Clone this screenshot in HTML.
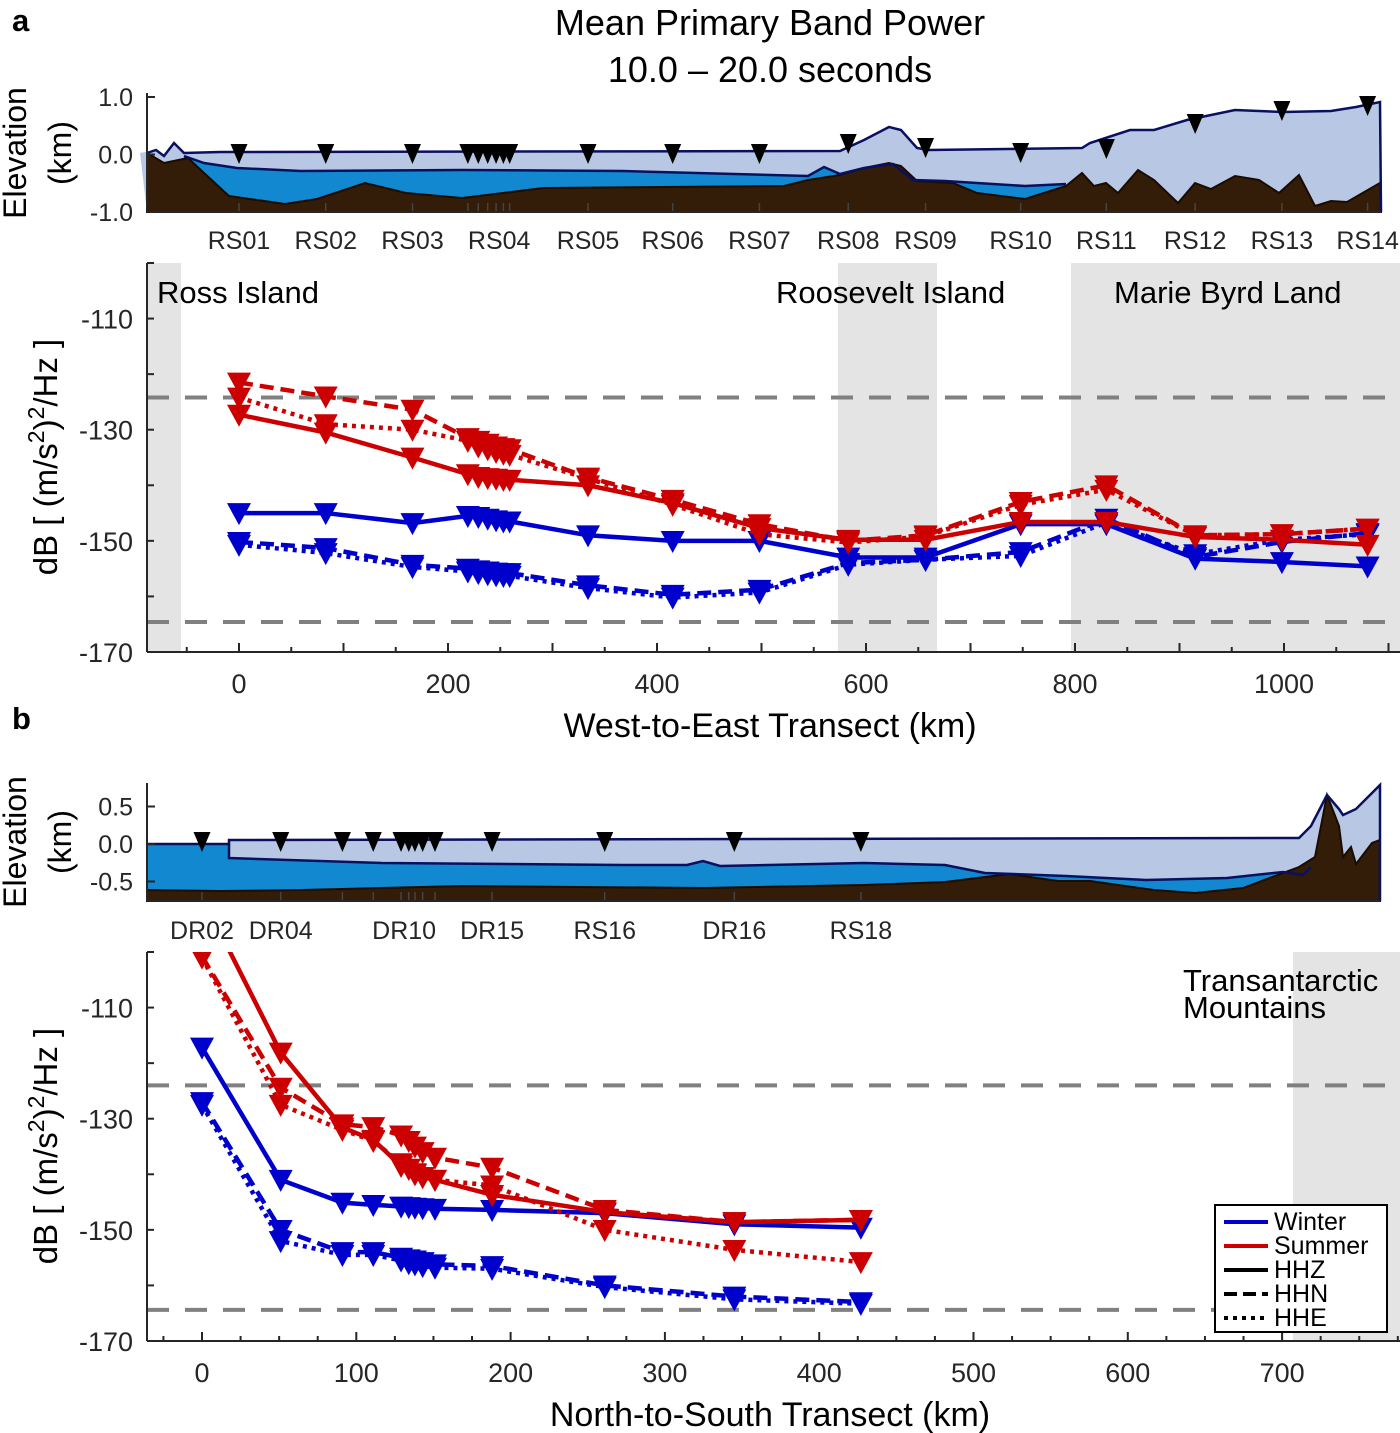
<!DOCTYPE html>
<html><head><meta charset="utf-8"><style>
body{margin:0;background:#fff}
svg{display:block;font-family:"Liberation Sans",Arial,sans-serif}
</style></head><body>
<svg id="fig" width="1400" height="1433" viewBox="0 0 1400 1433">
<defs>
<clipPath id="clipA"><rect x="147" y="263" width="1253" height="389"/></clipPath>
<clipPath id="clipB"><rect x="147" y="952" width="1253" height="389"/></clipPath>
</defs>
<text x="12" y="31" font-size="31" font-weight="bold">a</text>
<text x="12" y="729" font-size="31" font-weight="bold">b</text>
<text x="770" y="35" font-size="36" text-anchor="middle">Mean Primary Band Power</text>
<text x="770" y="82" font-size="36" text-anchor="middle">10.0 – 20.0 seconds</text>

<!-- Elevation panel a -->
<g>
<polygon fill="#b8c8e4" points="140,153 156,150 164,156 174,143 184,153 220,152 840,151 864,140 889,127 901,130 917,148 929,150 1082,148 1090,143 1130,130 1154,130 1187,120 1235,110 1283,112 1331,111 1356,107 1380,102 1381,212 147,212"/>
<polygon fill="#1288d0" points="184,156 204,163 237,168 301,171 462,170 623,171 808,176 824,167 840,174 864,168 893,164 913,180 945,181 993,184 1025,186 1066,184 1066,212 184,212"/>
<polygon fill="#331c08" stroke="#1a0c00" stroke-width="2" points="147,153 164,163 188,158 204,173 229,196 285,204 317,199 365,183 406,193 462,198 543,188 784,186 808,180 840,175 864,168 889,163 901,166 917,181 953,183 977,193 1025,199 1066,186 1082,173 1094,186 1106,183 1118,193 1138,170 1154,180 1178,203 1195,183 1211,189 1235,176 1259,180 1279,193 1299,175 1315,206 1331,201 1347,202 1380,183 1381,212 147,212"/>
<polyline fill="none" stroke="#0a1060" stroke-width="2.5" points="147,153 156,150 164,156 174,143 184,153 220,152 840,151 864,140 889,127 901,130 917,148 929,150 1082,148 1090,143 1130,130 1154,130 1187,120 1235,110 1283,112 1331,111 1356,107 1380,102 1381,212"/>
<polyline fill="none" stroke="#0a1060" stroke-width="2.5" points="184,156 204,163 237,168 301,171 462,170 623,171 808,176 824,167 840,174 864,168 893,164 913,180 945,181 993,184 1025,186 1066,184"/>
</g>
<g id="elevA"></g>

<!-- Elevation panel b -->
<g>
<polygon fill="#1288d0" points="147,844 229,844 229,858 1311,867 1311,901 147,901"/>
<polygon fill="#b8c8e4" points="229,840 1299,838 1311,826 1327,795 1339,809 1343,815 1356,809 1380,785 1380,901 1311,901 1311,867 1303,875 1283,872 1227,878 1146,880 1066,876 985,873 945,865 864,863 720,866 703,861 687,865 623,865 382,863 229,858"/>
<polygon fill="#1288d0" points="229,858 382,863 623,865 687,865 703,861 720,866 864,863 945,865 985,873 1066,876 1146,880 1227,878 1283,872 1303,875 1311,867 1311,901 229,901"/>
<polygon fill="#331c08" stroke="#1a0c00" stroke-width="2" points="147,890 220,891 301,890 462,886 703,888 864,885 945,882 1009,874 1058,881 1090,881 1154,890 1195,893 1243,888 1299,867 1315,857 1327,795 1339,826 1343,857 1351,847 1356,864 1372,843 1380,840 1380,901 147,901"/>
<polyline fill="none" stroke="#0a1060" stroke-width="2.5" points="147,844 229,844 229,840 1299,838 1311,826 1327,795 1339,809 1343,815 1356,809 1380,785 1380,901"/>
<polyline fill="none" stroke="#0a1060" stroke-width="2.5" points="229,844 229,858 382,863 623,865 687,865 703,861 720,866 864,863 945,865 985,873 1066,876 1146,880 1227,878 1283,872 1303,875 1311,867"/>
</g>
<g id="elevB"></g>

<!-- Main panel a -->
<g>
<rect x="147" y="263" width="34" height="389" fill="#e4e4e4"/>
<rect x="838" y="263" width="99" height="389" fill="#e4e4e4"/>
<rect x="1071" y="263" width="329" height="389" fill="#e4e4e4"/>
</g>
<text x="157" y="303" font-size="31">Ross Island</text>
<text x="776" y="303" font-size="31">Roosevelt Island</text>
<text x="1114" y="303" font-size="31">Marie Byrd Land</text>
<g id="mainA"></g>

<!-- Main panel b -->
<rect x="1293" y="952" width="107" height="389" fill="#e4e4e4"/>
<text x="1183" y="991" font-size="31">Transantarctic</text>
<text x="1183" y="1018" font-size="31">Mountains</text>
<g id="mainB"></g>

<text x="770" y="737" font-size="34" text-anchor="middle">West-to-East Transect (km)</text>
<text x="770" y="1426" font-size="34" text-anchor="middle">North-to-South Transect (km)</text>
<text transform="translate(57,457) rotate(-90)" font-size="33" text-anchor="middle">dB [ (m/s<tspan dy="-13" font-size="23">2</tspan><tspan dy="13">)</tspan><tspan dy="-13" font-size="23">2</tspan><tspan dy="13">/Hz ]</tspan></text>
<text transform="translate(57,1146) rotate(-90)" font-size="33" text-anchor="middle">dB [ (m/s<tspan dy="-13" font-size="23">2</tspan><tspan dy="13">)</tspan><tspan dy="-13" font-size="23">2</tspan><tspan dy="13">/Hz ]</tspan></text>
<text transform="translate(26,153) rotate(-90)" font-size="32" text-anchor="middle">Elevation</text>
<text transform="translate(71,153) rotate(-90)" font-size="32" text-anchor="middle">(km)</text>
<text transform="translate(26,842) rotate(-90)" font-size="32" text-anchor="middle">Elevation</text>
<text transform="translate(71,842) rotate(-90)" font-size="32" text-anchor="middle">(km)</text>

<g>
<rect x="1215" y="1205" width="172" height="127" fill="#fff" stroke="#000" stroke-width="2"/>
<line x1="1224" y1="1222" x2="1268" y2="1222" stroke="#0000cc" stroke-width="4"/>
<text x="1274" y="1230" font-size="25">Winter</text>
<line x1="1224" y1="1246" x2="1268" y2="1246" stroke="#cc0000" stroke-width="4"/>
<text x="1274" y="1254" font-size="25">Summer</text>
<line x1="1224" y1="1270" x2="1268" y2="1270" stroke="#000" stroke-width="4"/>
<text x="1274" y="1278" font-size="25">HHZ</text>
<line x1="1224" y1="1294" x2="1268" y2="1294" stroke="#000" stroke-width="4" stroke-dasharray="13,6"/>
<text x="1274" y="1302" font-size="25">HHN</text>
<line x1="1224" y1="1318" x2="1268" y2="1318" stroke="#000" stroke-width="4" stroke-dasharray="4,5"/>
<text x="1274" y="1326" font-size="25">HHE</text>
</g>
</svg>
<script>
// ---- Panel a data ----
const kmA = [0,83,166,219,229,238,246,253,259,334,415,498,583,657,748,830,915,998,1080];
const stationLabelsA = ["RS01","RS02","RS03","RS04","RS05","RS06","RS07","RS08","RS09","RS10","RS11","RS12","RS13","RS14"];
const stationLabelKmA = [0,83,166,249,334,415,498,583,657,748,830,915,998,1080];
const winterZA = [-145,-145,-146.8,-145.5,-145.7,-146,-146.3,-146.5,-146.5,-149,-150,-150,-153,-153,-147,-147,-153.2,-153.8,-154.6];
const winterNA = [-150.2,-151.3,-154.3,-155,-155.3,-155.5,-155.7,-155.8,-155.8,-158,-159.7,-158.8,-154,-153.4,-152,-146,-152.9,-150.2,-148.6];
const winterEA = [-150.7,-152.2,-154.7,-155.5,-155.8,-156,-156.2,-156.3,-156.3,-158.5,-160.2,-159.3,-154.3,-153.4,-152.7,-146.7,-152.4,-149.8,-148.8];
const summerZA = [-127.3,-130.5,-135,-138,-138.5,-138.7,-138.8,-139,-139,-140,-143.2,-147.7,-149.8,-149.8,-146.6,-146.6,-149.3,-149.8,-150.7];
const summerNA = [-121.5,-124,-126.4,-131.5,-132,-132.5,-133,-133.3,-133.5,-138.6,-142.6,-147,-150,-149,-143,-140,-149,-148.8,-147.8];
const summerEA = [-124.2,-129,-130,-132,-133,-133.5,-134,-134.3,-134.5,-138.8,-143.5,-148.8,-150.3,-149.2,-143.5,-140.8,-149,-148.8,-147.8];
const xTicksA = [0,200,400,600,800,1000];
const yTicks = [-110,-130,-150,-170];
const refLevelsA = [-124.2,-164.6];
const elevTicksA = [1.0,0.0,-1.0];
// ---- Panel b data ----
const kmB = [0,51,91,111,129,134,138,143,151,188,261,345,427];
const stationLabelsB = ["DR02","DR04","DR10","DR15","RS16","DR16","RS18"];
const stationLabelKmB = [0,51,131,188,261,345,427];
const winterZB = [-117.2,-141,-145.1,-145.5,-145.8,-145.9,-146,-146.1,-146.2,-146.4,-147,-149,-149.6];
const winterNB = [-127,-150,-154,-154,-155,-155.3,-155.5,-155.8,-156.2,-156.5,-160,-162,-163];
const winterEB = [-127.5,-152,-154.5,-154.5,-155.5,-156,-156.2,-156.5,-156.8,-157,-160.3,-162.5,-163.3];
const summerZB = [-90,-118.1,-131.6,-133.8,-138.5,-139,-139.8,-140.5,-141,-143.7,-146.8,-148.6,-148.2];
const summerNB = [-100.8,-124.4,-131,-131.5,-133,-134,-135,-136,-137,-138.8,-146.4,-148.6,-148.2];
const summerEB = [-101,-127.5,-132,-134,-138,-139,-140,-140.5,-141,-142,-150,-153.6,-155.8];
const xTicksB = [0,100,200,300,400,500,600,700];
const refLevelsB = [-124,-164.4];
const elevTicksB = [0.5,0.0,-0.5];

const NS="http://www.w3.org/2000/svg";
function mk(tag,attrs,parent){const e=document.createElementNS(NS,tag);for(const k in attrs)e.setAttribute(k,attrs[k]);parent.appendChild(e);return e;}

function axisFns(x0km,pxPerKm,x0px,yTopDb,yTopPx,pxPerDb){
  return {x:k=>x0px+(k-x0km)*pxPerKm, y:d=>yTopPx+(yTopDb-d)*pxPerDb};
}
const axA = axisFns(0,1.045,239,-100,263,5.557);
const axB = axisFns(0,1.543,202,-100,952,5.557);
const elA = v=>154.5-v*57.5;
const elB = v=>844-v*75;

function tri(g,cx,cy,w,h,fill,name){
  const p=mk('polygon',{points:`${cx-w/2},${cy-h*0.45} ${cx+w/2},${cy-h*0.45} ${cx},${cy+h*0.55}`,fill:fill},g);
  
  
}

function drawMain(gid,ax,km,series,xTicks,refs,clip,top,bottom,left,right,minorStep){
  const g=document.getElementById(gid);
  const cg=mk('g',{'clip-path':`url(#${clip})`},g);
  refs.forEach(r=>{
    const l=mk('line',{x1:left,x2:right,y1:ax.y(r),y2:ax.y(r),stroke:'#808080','stroke-width':4,'stroke-dasharray':'22,16'},cg);
    
    
  });
  series.forEach(s=>{
    const pts=km.map((k,i)=>`${ax.x(k)},${ax.y(s.v[i])}`).join(' ');
    const pl=mk('polyline',{points:pts,fill:'none',stroke:s.c,'stroke-width':4.5,'stroke-dasharray':s.d},cg);
    
    
    km.forEach((k,i)=>tri(cg,ax.x(k),ax.y(s.v[i]),24,22,s.c,s.n+'-marker'));
  });
  const axg=mk('g',{},g);
  const la=mk('line',{x1:left,x2:left,y1:top,y2:bottom,stroke:'#262626','stroke-width':2},axg);
  
  
  const lb=mk('line',{x1:left,x2:right,y1:bottom,y2:bottom,stroke:'#262626','stroke-width':2},axg);
  
  
  for(let k=Math.ceil(((left-ax.x(0))/ (ax.x(1)-ax.x(0)))/minorStep)*minorStep;ax.x(k)<=right;k+=minorStep){
    mk('line',{x1:ax.x(k),x2:ax.x(k),y1:bottom,y2:bottom-(k%100===0?9:5),stroke:'#262626','stroke-width':2},axg);
  }
  xTicks.forEach(k=>{
    const t=mk('text',{x:ax.x(k),y:bottom+41,'font-size':27,'text-anchor':'middle',fill:'#262626'},axg);
    t.textContent=k;
    
    
  });
  for(let d=-170;d<=-100;d+=10){
    mk('line',{x1:left,x2:left+7,y1:ax.y(d),y2:ax.y(d),stroke:'#262626','stroke-width':2},axg);
  }
  yTicks.forEach(d=>{
    const t=mk('text',{x:left-14,y:ax.y(d)+10,'font-size':27,'text-anchor':'end',fill:'#262626'},axg);
    t.textContent=d;
    
    
  });
}

drawMain('mainA',axA,kmA,[
 {v:winterZA,c:'#0000cc',d:'none',n:'winter-hhz'},
 {v:winterNA,c:'#0000cc',d:'14,7',n:'winter-hhn'},
 {v:winterEA,c:'#0000cc',d:'4,5',n:'winter-hhe'},
 {v:summerZA,c:'#cc0000',d:'none',n:'summer-hhz'},
 {v:summerNA,c:'#cc0000',d:'14,7',n:'summer-hhn'},
 {v:summerEA,c:'#cc0000',d:'4,5',n:'summer-hhe'}
],xTicksA,refLevelsA,'clipA',263,652,147,1400,50);

drawMain('mainB',axB,kmB,[
 {v:winterZB,c:'#0000cc',d:'none',n:'winter-hhz'},
 {v:winterNB,c:'#0000cc',d:'14,7',n:'winter-hhn'},
 {v:winterEB,c:'#0000cc',d:'4,5',n:'winter-hhe'},
 {v:summerZB,c:'#cc0000',d:'none',n:'summer-hhz'},
 {v:summerNB,c:'#cc0000',d:'14,7',n:'summer-hhn'},
 {v:summerEB,c:'#cc0000',d:'4,5',n:'summer-hhe'}
],xTicksB,refLevelsB,'clipB',952,1341,147,1400,25);

function drawElev(gid,ax,el,km,labelKm,labels,ticks,top,bottom,right,surfY,labelY){
  const g=document.getElementById(gid);
  km.forEach(k=>mk('line',{x1:ax.x(k),x2:ax.x(k),y1:bottom,y2:bottom-9,stroke:'#444','stroke-width':1.5},g));
  const a1=mk('line',{x1:147,x2:147,y1:top,y2:bottom,stroke:'#262626','stroke-width':2},g);
  
  
  const a2=mk('line',{x1:147,x2:right,y1:bottom,y2:bottom,stroke:'#262626','stroke-width':2},g);
  
  
  ticks.forEach(v=>{
    mk('line',{x1:147,x2:155,y1:el(v),y2:el(v),stroke:'#262626','stroke-width':2},g);
    const t=mk('text',{x:133,y:el(v)+9,'font-size':25,'text-anchor':'end',fill:'#262626'},g);
    t.textContent=v.toFixed(1);
    
    
  });
  km.forEach((k,i)=>tri(g,ax.x(k),surfY(i),17,20,'#000','station-marker'));
  labels.forEach((s,i)=>{
    const t=mk('text',{x:ax.x(labelKm[i]),y:labelY,'font-size':25,'text-anchor':'middle',fill:'#262626'},g);
    t.textContent=s;
    
    
  });
}
const surfA=[153,153,153,153,153,153,153,153,153,153,153,153,143,147,152,148,123,110,105];
drawElev('elevA',axA,elA,kmA,stationLabelKmA,stationLabelsA,elevTicksA,93,212,1381,i=>surfA[i],249);
drawElev('elevB',axB,elB,kmB,stationLabelKmB,stationLabelsB,elevTicksB,783,901,1380,i=>841,939);
</script>
</body></html>
